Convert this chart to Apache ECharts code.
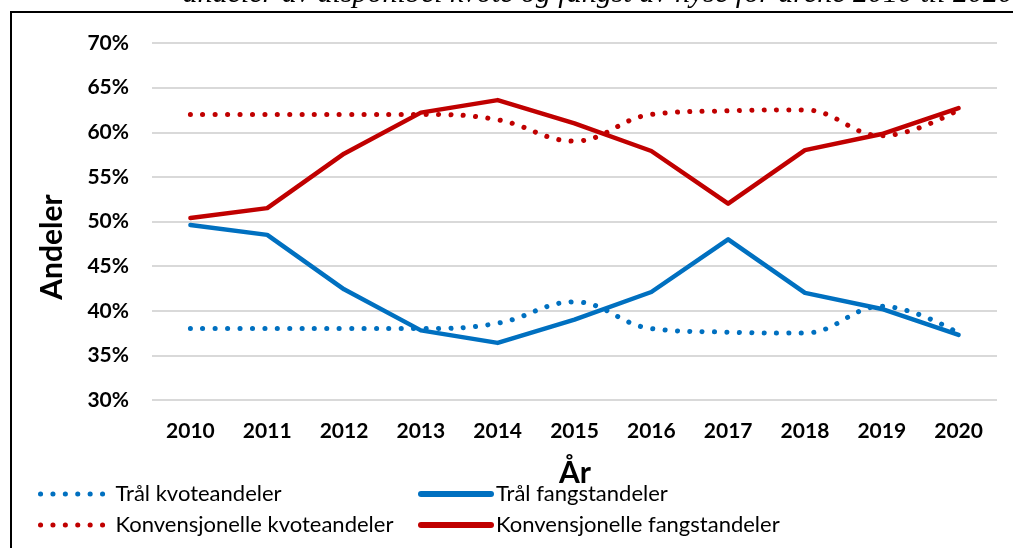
<!DOCTYPE html>
<html>
<head>
<meta charset="utf-8">
<script src="https://cdn.jsdelivr.net/npm/echarts@6/dist/echarts.min.js"></script>
<style>
html, body { margin: 0; padding: 0; background: #fff; }
#chart { width: 1013px; height: 548px; }
</style>
</head>
<body>
<div id="chart"></div>
<script>
// data (andeler i prosent)
var years = ['2010', '2011', '2012', '2013', '2014', '2015', '2016', '2017', '2018', '2019', '2020'];
var tralKvote = [38.0, 38.0, 38.0, 38.0, 38.6, 41.0, 38.0, 37.6, 37.5, 40.5, 37.5];
var tralFangst = [49.6, 48.5, 42.4, 37.8, 36.4, 39.0, 42.1, 48.0, 42.0, 40.2, 37.3];
var konvKvote = [62.0, 62.0, 62.0, 62.0, 61.4, 59.0, 62.0, 62.4, 62.5, 59.6, 62.5];
var konvFangst = [50.4, 51.5, 57.6, 62.2, 63.6, 61.0, 57.9, 52.0, 58.0, 59.8, 62.7];

var names = ['Trål kvoteandeler', 'Trål fangstandeler', 'Konvensjonelle kvoteandeler', 'Konvensjonelle fangstandeler'];
var blue = '#0070c0';
var red = '#c00000';
var font = 'Lato';

var chart = echarts.init(document.getElementById('chart'));

function dotted(name, data, color) {
	return {
		name: name,
		type: 'line',
		data: data,
		smooth: 0.4,
		symbol: 'none',
		lineStyle: { color: color, width: 5, type: [0.1, 12.3], cap: 'round' },
		itemStyle: { color: color }
	};
}
function solid(name, data, color) {
	return {
		name: name,
		type: 'line',
		data: data,
		symbol: 'none',
		lineStyle: { color: color, width: 4.5, cap: 'round', join: 'round' },
		itemStyle: { color: color }
	};
}
function legendCol(left, data, width) {
	// egen kolonne per legend, slik at ikonene står under hverandre
	return {
		orient: 'vertical',
		left: left,
		top: 482,
		padding: 0,
		itemWidth: 70,
		itemHeight: 14,
		itemGap: 7,
		data: data,
		itemStyle: { opacity: 0 },
		lineStyle: { width: width, cap: 'round' },
		textStyle: { fontFamily: font, fontSize: 22, color: '#000', lineHeight: 24 }
	};
}

var option = {
	animation: false,
	title: {
		text: 'andeler av disponibel kvote og fangst av hyse for årene 2010 til 2020',
		right: 0,
		top: -21,
		padding: 0,
		textStyle: { fontFamily: 'Liberation Serif', fontStyle: 'italic', fontWeight: 'normal', fontSize: 30, color: '#000' }
	},
	graphic: [
		{ type: 'rect', z: -10, shape: { x: 11, y: 12, width: 1100, height: 600 },
			style: { fill: 'none', stroke: '#000', lineWidth: 2 } },
		{ type: 'text', x: 52, y: 247, rotation: Math.PI / 2,
			style: { text: 'Andeler', fontFamily: font, fontWeight: 'bold', fontSize: 30, fill: '#000', align: 'center', verticalAlign: 'middle' } },
		{ type: 'text', x: 575, y: 473,
			style: { text: 'År', fontFamily: font, fontWeight: 'bold', fontSize: 30, fill: '#000', align: 'center', verticalAlign: 'middle' } }
	],
	legend: [
		legendCol(38, [names[0], names[2]], 5),
		legendCol(418, [names[1], names[3]], 6)
	],
	grid: { left: 152, right: 16, top: 43, bottom: 148 },
	xAxis: {
		type: 'category',
		data: years,
		axisLine: { show: false },
		axisTick: { show: false },
		axisLabel: { margin: 21, fontFamily: font, fontWeight: 'bold', fontSize: 21, color: '#000' }
	},
	yAxis: {
		type: 'value',
		min: 30,
		max: 70,
		interval: 5,
		axisLine: { show: false },
		axisTick: { show: false },
		axisLabel: { margin: 23, formatter: '{value}%', fontFamily: font, fontWeight: 'bold', fontSize: 21, color: '#000' },
		splitLine: { lineStyle: { color: '#d9d9d9', width: 2 } }
	},
	series: [
		dotted(names[0], tralKvote, blue),
		solid(names[1], tralFangst, blue),
		dotted(names[2], konvKvote, red),
		solid(names[3], konvFangst, red)
	]
};
chart.setOption(option);
</script>
</body>
</html>
